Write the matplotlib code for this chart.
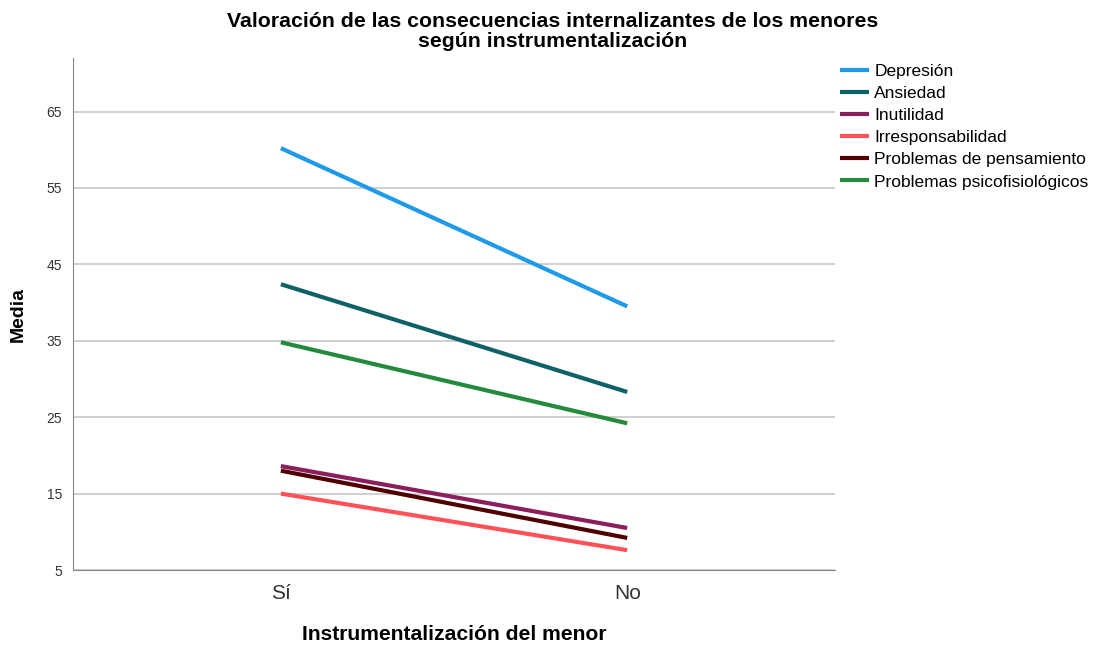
import matplotlib.pyplot as plt

plt.rcParams['font.family'] = ['Liberation Sans', 'DejaVu Sans']

categorias = ["Sí", "No"]
series = ["Depresión", "Ansiedad", "Inutilidad", "Irresponsabilidad",
          "Problemas de pensamiento", "Problemas psicofisiológicos"]
depresion = [60.2, 39.5]
ansiedad = [42.4, 28.3]
inutilidad = [18.6, 10.5]
irresponsabilidad = [15.0, 7.6]
pensamiento = [18.0, 9.2]
psicofisiologicos = [34.8, 24.2]
valores = [depresion, ansiedad, inutilidad, irresponsabilidad, pensamiento, psicofisiologicos]
colores = ["#1f9ae8", "#0e6164", "#8b1f5b", "#ff5157", "#4f0000", "#248a3d"]
yticks = [5, 15, 25, 35, 45, 55, 65]

fig = plt.figure(figsize=(11, 6.46), dpi=100)
ax = fig.add_axes([0.0664, 0.1176, 0.6927, 0.7926])

x = range(len(categorias))
for nombre, vals, col in zip(series, valores, colores):
  ax.plot(x, vals, color=col, lw=3, label=nombre, solid_capstyle="butt")

ax.set_xlim(-0.6, 1.6)
ax.set_ylim(5, 72)
ax.set_yticks(yticks)
ax.set_xticks(list(x))
ax.set_xticklabels(categorias, fontsize=15, color="#333333")
ax.tick_params(axis="y", labelsize=10, length=0, pad=8, colors="#333333")
ax.tick_params(axis="x", length=0, pad=10)
ax.grid(axis="y", color="#c8c8c8", lw=1.2)
ax.set_axisbelow(True)
for s in ["top", "right"]:
  ax.spines[s].set_visible(False)
for s in ["left", "bottom"]:
  ax.spines[s].set_color("#888888")

ax.set_ylabel("Media", fontsize=14, fontweight="bold", labelpad=14)
ax.set_xlabel("Instrumentalización del menor", fontsize=15.2, fontweight="bold", labelpad=16)
fig.suptitle("Valoración de las consecuencias internalizantes de los menores\nsegún instrumentalización",
             x=0.502, y=0.982, fontsize=15.3, fontweight="bold", linespacing=1.1)

ax.legend(loc="upper left", bbox_to_anchor=(0.997, 1.002), frameon=False, fontsize=12.5,
          handlelength=1.7, handletextpad=0.3, labelspacing=0.40, borderaxespad=0.0)

fig.savefig("out.png", dpi=100)
